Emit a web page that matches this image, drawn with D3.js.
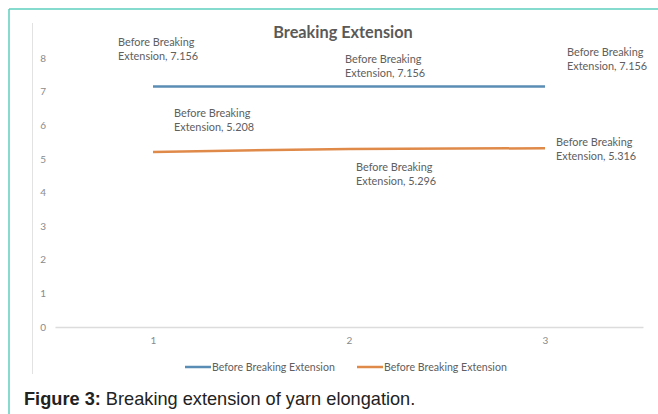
<!DOCTYPE html>
<html>
<head>
<meta charset="utf-8">
<script src="https://cdn.jsdelivr.net/npm/d3@7"></script>
<style>
  body { margin: 0; background: #fff; }
  svg { display: block; }
</style>
</head>
<body>
<svg id="chart" width="658" height="414"></svg>
<script>
// chart data
const categories = ['1', '2', '3'];
const seriesNames = ['Before Breaking Extension', 'Before Breaking Extension'];
const blueValues = [7.156, 7.156, 7.156];
const orangeValues = [5.208, 5.296, 5.316];
const yTicks = [0, 1, 2, 3, 4, 5, 6, 7, 8];
const chartTitle = 'Breaking Extension';
const captionBold = 'Figure 3:';
const captionText = ' Breaking extension of yarn elongation.';

// label placement (offset from the point, left edge / first line)
const blueLabelOffsets = [[-35, -44], [-4, -27], [22, -34]];
const orangeLabelOffsets = [[21, -39], [7, 18], [11, -6]];

const colors = ['#5a8db5', '#e08a4a'];
const textGray = '#606060';
const font = 'Lato, "Open Sans", sans-serif';

const svg = d3.select('svg#chart');

// frame of the figure
svg.append('line')
  .attr('x1', 9).attr('x2', 658).attr('y1', 9).attr('y2', 9)
  .attr('stroke', '#5ccfbe').attr('stroke-width', 1.5);
svg.append('line')
  .attr('x1', 9).attr('x2', 9).attr('y1', 9).attr('y2', 414)
  .attr('stroke', '#5ccfbe').attr('stroke-width', 1.5);

// chart area left border
svg.append('line')
  .attr('x1', 32.5).attr('x2', 32.5).attr('y1', 23).attr('y2', 374)
  .attr('stroke', '#e2e2e2').attr('stroke-width', 1);

const xScale = d3.scalePoint()
  .domain(categories)
  .range([55, 643])
  .padding(0.5);

const yScale = d3.scaleLinear()
  .domain([0, 8])
  .range([327, 58]);

// y axis labels (no line)
const yAxis = svg.append('g')
  .attr('transform', 'translate(46,0)')
  .call(d3.axisLeft(yScale).tickValues(yTicks).tickSize(0).tickPadding(0).tickFormat(d3.format('d')));
yAxis.select('.domain').remove();
yAxis.selectAll('text')
  .attr('font-family', font).attr('font-size', 10).attr('fill', '#8a8a8a');

// x axis
const xAxis = svg.append('g')
  .attr('transform', 'translate(0,' + yScale(0) + ')')
  .call(d3.axisBottom(xScale).tickSize(0).tickPadding(10));
xAxis.select('.domain')
  .attr('stroke', '#dcdcdc').attr('stroke-width', 1.5);
xAxis.selectAll('text')
  .attr('font-family', font).attr('font-size', 10).attr('fill', '#8a8a8a');

// title
svg.append('text')
  .attr('x', 343).attr('y', 38)
  .attr('text-anchor', 'middle')
  .attr('font-family', font).attr('font-size', 16.3).attr('font-weight', 'bold')
  .attr('fill', '#5a5a5a')
  .text(chartTitle);

const line = d3.line()
  .x((d, i) => xScale(categories[i]))
  .y(d => yScale(d));

const series = [
  { values: blueValues, offsets: blueLabelOffsets, color: colors[0] },
  { values: orangeValues, offsets: orangeLabelOffsets, color: colors[1] }
];

series.forEach((s, si) => {
  svg.append('path')
    .datum(s.values)
    .attr('d', line)
    .attr('fill', 'none')
    .attr('stroke', s.color)
    .attr('stroke-width', 2.5);

  const labels = svg.append('g').selectAll('text')
    .data(s.values).enter().append('text')
    .attr('font-family', font).attr('font-size', 10.9)
    .attr('fill', textGray)
    .attr('transform', (d, i) => 'translate(' + (xScale(categories[i]) + s.offsets[i][0]) + ',' + (yScale(d) + s.offsets[i][1] + 3.8) + ')');
  labels.append('tspan')
    .attr('x', 0).attr('y', 0)
    .text('Before Breaking');
  labels.append('tspan')
    .attr('x', 0).attr('y', 14)
    .text(d => seriesNames[si].replace('Before Breaking ', '') + ', ' + d3.format('.3f')(d));
});

// legend
const legend = svg.append('g').attr('transform', 'translate(185,367)');
const legendX = [0, 172];
seriesNames.forEach((name, i) => {
  legend.append('line')
    .attr('x1', legendX[i]).attr('x2', legendX[i] + 26)
    .attr('y1', 0).attr('y2', 0)
    .attr('stroke', colors[i]).attr('stroke-width', 2.5);
  legend.append('text')
    .attr('x', legendX[i] + 27).attr('y', 3.6)
    .attr('font-family', font).attr('font-size', 10.6)
    .attr('fill', textGray)
    .text(name);
});

// caption
const caption = svg.append('text')
  .attr('x', 24).attr('y', 405)
  .attr('font-family', '"Liberation Sans", Arial, sans-serif')
  .attr('font-size', 18.2)
  .attr('fill', '#222');
caption.append('tspan').attr('font-weight', 'bold').text(captionBold);
caption.append('tspan').text(captionText);
</script>
</body>
</html>
